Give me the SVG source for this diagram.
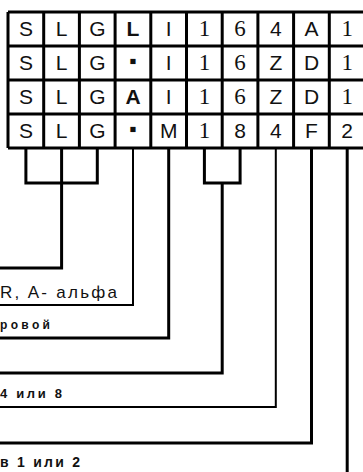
<svg xmlns="http://www.w3.org/2000/svg" width="363" height="472" viewBox="0 0 363 472">
<style>
.bg{fill:#fff}
.grid{stroke:#000;stroke-width:3;fill:none}
.c{font-family:"Liberation Sans",Arial,sans-serif;font-size:21px;text-anchor:middle;fill:#111}
.cs{font-family:"Liberation Serif","Times New Roman",serif;font-size:23px;text-anchor:middle;fill:#111}
.b{font-weight:bold}
.thick{stroke:#000;stroke-width:3;fill:none}
.thin{stroke:#000;stroke-width:2;fill:none}
.lbl{font-family:"Liberation Sans",Arial,sans-serif;fill:#111}
</style>
<rect class="bg" x="0" y="0" width="363" height="472"/>
<g id="grid">
<path class="grid" d="M8 12H366M8 46H366M8 80H366M8 114H366M8 148H366M8 12V148M43.7 12V148M79.4 12V148M115.1 12V148M150.8 12V148M186.5 12V148M222.2 12V148M257.9 12V148M293.6 12V148M329.3 12V148"/>
</g>
<g id="row1">
<text class="c" x="25.9" y="36">S</text><text class="c" x="61.6" y="36">L</text><text class="c" x="97.3" y="36">G</text>
<text class="c b" x="133" y="36">L</text><text class="c" x="168.7" y="36">I</text>
<text class="cs" x="204.4" y="36">1</text><text class="cs" x="240.1" y="36">6</text>
<text class="c" x="275.8" y="36">4</text><text class="c" x="311.5" y="36">A</text><text class="cs" x="347.2" y="36">1</text>
</g>
<g id="row2">
<text class="c" x="25.9" y="70">S</text><text class="c" x="61.6" y="70">L</text><text class="c" x="97.3" y="70">G</text>
<text class="c" x="133" y="68" font-size="14">▪</text><text class="c" x="168.7" y="70">I</text>
<text class="cs" x="204.4" y="70">1</text><text class="cs" x="240.1" y="70">6</text>
<text class="c" x="275.8" y="70">Z</text><text class="c" x="311.5" y="70">D</text><text class="cs" x="347.2" y="70">1</text>
</g>
<g id="row3">
<text class="c" x="25.9" y="104">S</text><text class="c" x="61.6" y="104">L</text><text class="c" x="97.3" y="104">G</text>
<text class="c b" x="133" y="104">A</text><text class="c" x="168.7" y="104">I</text>
<text class="cs" x="204.4" y="104">1</text><text class="cs" x="240.1" y="104">6</text>
<text class="c" x="275.8" y="104">Z</text><text class="c" x="311.5" y="104">D</text><text class="cs" x="347.2" y="104">1</text>
</g>
<g id="row4">
<text class="c" x="25.9" y="138">S</text><text class="c" x="61.6" y="138">L</text><text class="c" x="97.3" y="138">G</text>
<text class="c" x="133" y="136" font-size="14">▪</text><text class="c" x="168.7" y="138">M</text>
<text class="cs" x="204.4" y="138">1</text><text class="c" x="240.1" y="138">8</text>
<text class="c" x="275.8" y="138">4</text><text class="c" x="311.5" y="138">F</text><text class="c" x="347.2" y="138">2</text>
</g>
<g id="connectors">
<path class="thick" d="M25.9 148V183H97.3V148M61.6 148V268H0"/>
<path class="thin" d="M133 148V305H0"/>
<path class="thick" d="M168.7 148V338H0"/>
<path class="thick" d="M204.4 148V183H240.1V148M222.2 183V373H0"/>
<path class="thin" d="M275.8 148V407H0"/>
<path class="thick" d="M311.5 148V443H0"/>
<path class="thick" d="M347.2 148V472"/>
</g>
<g id="label1"><text class="lbl" x="0" y="298" font-size="17" textLength="117" lengthAdjust="spacing">R, A- альфа</text></g>
<g id="label2"><text class="lbl b" x="0" y="329" font-size="12" textLength="50" lengthAdjust="spacing">ровой</text></g>
<g id="label3"><text class="lbl b" x="0" y="398" font-size="13" textLength="62" lengthAdjust="spacing">4 или 8</text></g>
<g id="label4"><text class="lbl b" x="0" y="467" font-size="14" textLength="80" lengthAdjust="spacing">в 1 или 2</text></g>
</svg>
